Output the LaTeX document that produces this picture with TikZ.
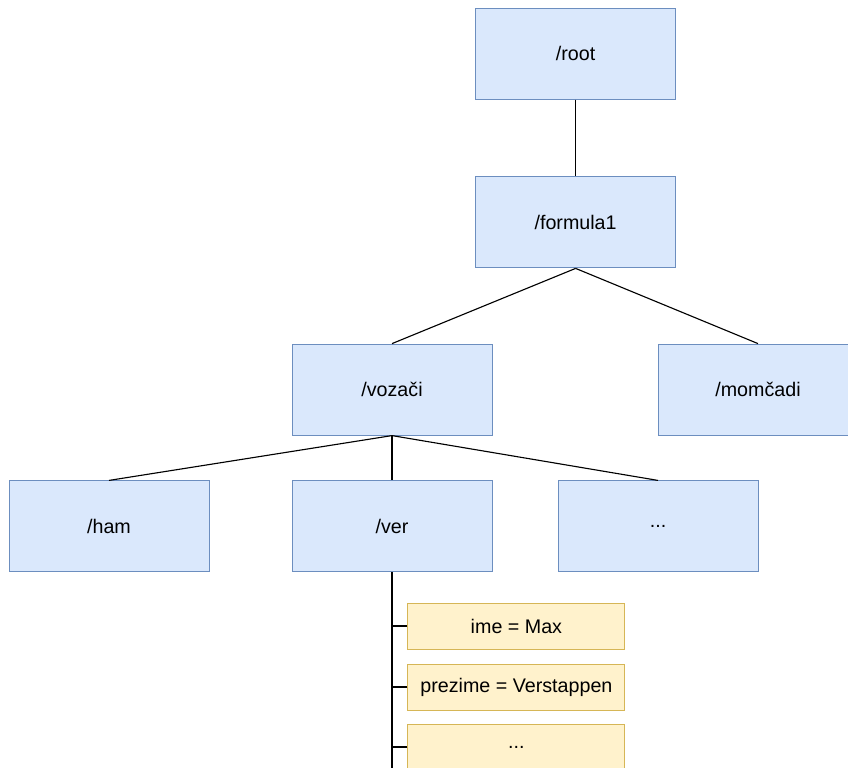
\documentclass[tikz,border=0pt]{standalone}
\usepackage{fontspec}
\setmainfont{Liberation Sans}
\definecolor{dirfill}{HTML}{DAE8FC}
\definecolor{dirline}{HTML}{6C8EBF}
\definecolor{keyfill}{HTML}{FFF2CC}
\definecolor{keyline}{HTML}{D6B656}
\tikzset{
    dir/.style={rectangle, draw=dirline, fill=dirfill, line width=0.7pt,
        minimum width=5cm, minimum height=2.275cm, font=\fontsize{14}{16}\selectfont},
    keyval/.style={rectangle, draw=keyline, fill=keyfill, line width=0.7pt,
        minimum width=5.425cm, minimum height=1.15cm, font=\fontsize{14}{16}\selectfont},
}
\begin{document}
\begin{tikzpicture}
            \clip (0,0) rectangle (21.2,-19.175);

            \node[dir] (root) at (14.39,-1.34) {/root};
            \node[dir] (f1) at (14.39,-5.56) {/formula1};
            \node[dir] (vozaci) at (9.8,-9.74) {/vozači};
            \node[dir] (momcadi) at (18.95,-9.74) {/momčadi};
            \node[dir] (ham) at (2.725,-13.16) {/ham};
            \node[dir] (ver) at (9.8,-13.16) {/ver};
            \node[dir] (ostali) at (16.45,-13.16) {...};

            \node[keyval] (ime) at (12.91,-15.65) {ime = Max};
            \node[keyval] (prezime) at (12.91,-17.175) {prezime = Verstappen};
            \node[keyval] (josk) at (12.91,-18.675) {...};
            \coordinate (kraj) at (9.8,-19.4);

            \begin{scope}[line width=0.8pt]
                \path[draw] (root.south) -- (f1.north);
                \path[draw] (f1.south) -- (vozaci.north);
                \path[draw] (f1.south) -- (momcadi.north);
                \path[draw] (vozaci.south) -- (ham.north);
                \path[draw] (vozaci.south) -- (ver.north);
                \path[draw] (vozaci.south) -- (ostali.north);

                \path[draw] (ver.south) -- (kraj);
                \path[draw] (ime.west) -- (ime.west -| ver.south);
                \path[draw] (prezime.west) -- (prezime.west -| ver.south);
                \path[draw] (josk.west) -- (josk.west -| ver.south);
            \end{scope}

        \end{tikzpicture}
\end{document}
